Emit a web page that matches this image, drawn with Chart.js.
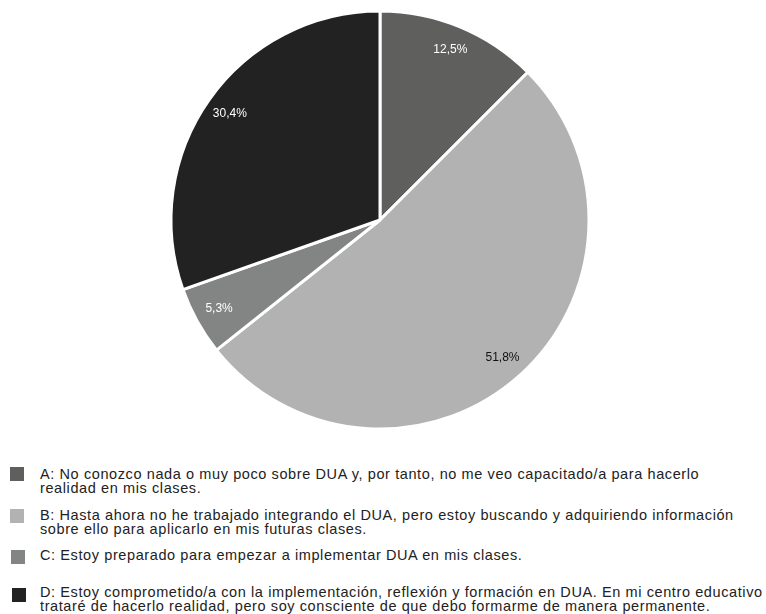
<!DOCTYPE html>
<html>
<head>
<meta charset="utf-8">
<script src="https://cdn.jsdelivr.net/npm/chart.js@4.4.1/dist/chart.umd.min.js"></script>
<style>
  html, body { margin: 0; padding: 0; background: #fff; }
  body { width: 766px; height: 614px; position: relative; overflow: hidden;
         font-family: "Liberation Sans", Arial, Helvetica, sans-serif; }
  #wrap { position: absolute; left: 0; top: 0; width: 766px; height: 440px; }
  .leg { position: absolute; left: 40px; font-size: 14.5px; letter-spacing: 0.6px; line-height: 14px; color: #222; white-space: nowrap; }
  .box { position: absolute; width: 14px; height: 14px; }
</style>
</head>
<body>
<div id="wrap"><canvas id="pie"></canvas></div>
<div id="legend"></div>
<script>
// datos de la encuesta sobre DUA
const categorias = [
  'A: No conozco nada o muy poco sobre DUA y, por tanto, no me veo capacitado/a para hacerlo\nrealidad en mis clases.',
  'B: Hasta ahora no he trabajado integrando el DUA, pero estoy buscando y adquiriendo información\nsobre ello para aplicarlo en mis futuras clases.',
  'C: Estoy preparado para empezar a implementar DUA en mis clases.',
  'D: Estoy comprometido/a con la implementación, reflexión y formación en DUA. En mi centro educativo\ntrataré de hacerlo realidad, pero soy consciente de que debo formarme de manera permanente.'
];
const porcentajes = [12.5, 51.8, 5.3, 30.4];
const colores = ['#5f5f5d', '#b2b2b2', '#838584', '#222222'];
const coloresEtiqueta = ['#ffffff', '#111111', '#ffffff', '#ffffff'];

// leyenda en HTML debajo del gráfico
const legendTops = [466.5, 508, 548, 585];
const boxPos = [[9.5, 467], [9.5, 509], [11, 550], [12, 588]];
const legend = document.getElementById('legend');
categorias.forEach((txt, i) => {
  const box = document.createElement('div');
  box.className = 'box';
  box.style.left = boxPos[i][0] + 'px';
  box.style.top = boxPos[i][1] + 'px';
  box.style.background = colores[i];
  legend.appendChild(box);
  const t = document.createElement('div');
  t.className = 'leg';
  t.style.top = legendTops[i] + 'px';
  t.innerHTML = txt.split('\n').join('<br>');
  legend.appendChild(t);
});

// etiquetas de porcentaje dentro de cada sector
const etiquetasPlugin = {
  id: 'etiquetas',
  afterDatasetsDraw(chart) {
    const ctx = chart.ctx;
    const meta = chart.getDatasetMeta(0);
    ctx.save();
    ctx.font = '12px "Liberation Sans", Arial, sans-serif';
    ctx.textAlign = 'center';
    ctx.textBaseline = 'middle';
    meta.data.forEach((arc, i) => {
      const { x, y, startAngle, endAngle, outerRadius } = arc.getProps(['x', 'y', 'startAngle', 'endAngle', 'outerRadius'], true);
      const mid = (startAngle + endAngle) / 2;
      const r = outerRadius * 0.88;
      ctx.fillStyle = coloresEtiqueta[i];
      ctx.fillText(porcentajes[i].toFixed(1).replace('.', ',') + '%', x + Math.cos(mid) * r, y + Math.sin(mid) * r);
    });
    ctx.restore();
  }
};

new Chart(document.getElementById('pie'), {
  type: 'pie',
  data: {
    labels: categorias,
    datasets: [{
      data: porcentajes,
      backgroundColor: colores,
      borderColor: '#ffffff',
      borderWidth: 3
    }]
  },
  options: {
    responsive: true,
    maintainAspectRatio: false,
    animation: false,
    layout: { padding: { top: 9.5, bottom: 9.5, left: 0, right: 6 } },
    plugins: {
      legend: { display: false },
      tooltip: { enabled: false }
    }
  },
  plugins: [etiquetasPlugin]
});
</script>
</body>
</html>
